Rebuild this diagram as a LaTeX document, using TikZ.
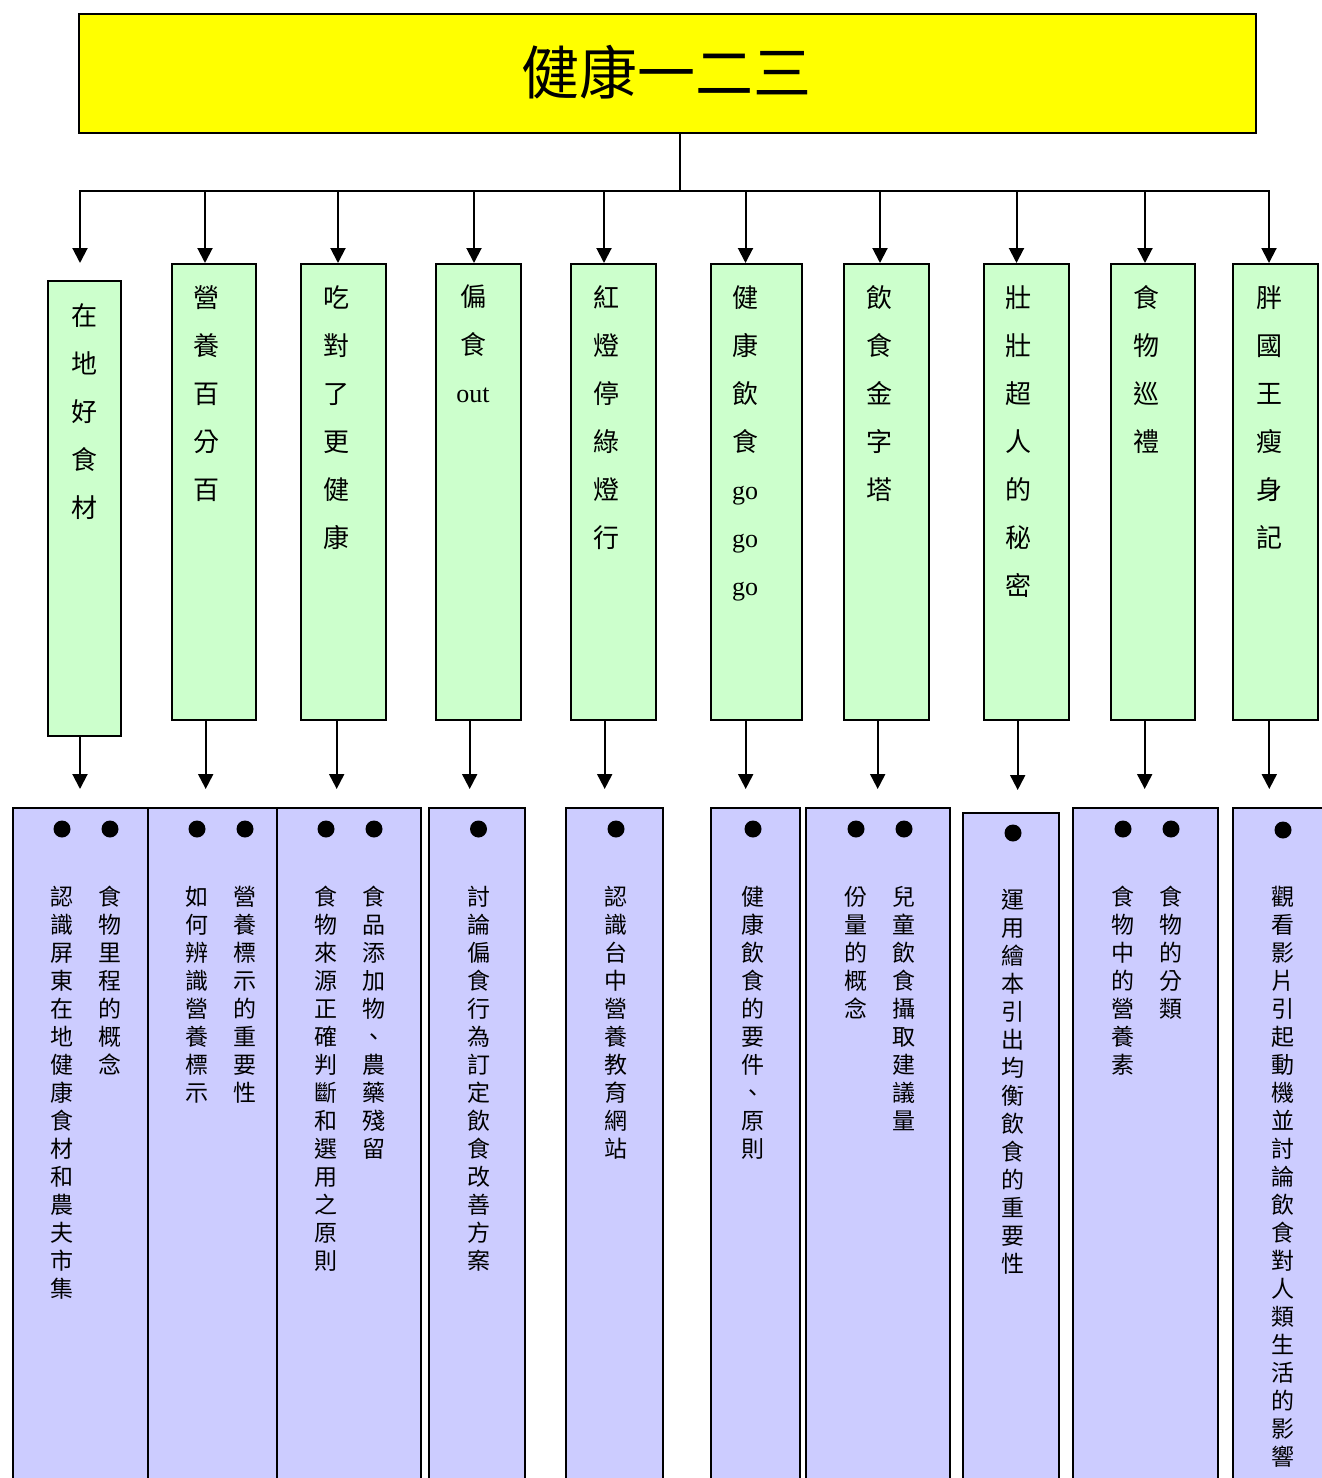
\documentclass[tikz,border=0pt]{standalone}
\usepackage{fontspec}
\setmainfont{Liberation Serif}
\newfontfamily\cjk{Noto Sans CJK TC}
\usetikzlibrary{arrows.meta}
\definecolor{ttlfill}{HTML}{FFFF00}
\definecolor{gfill}{HTML}{CCFFCC}
\definecolor{pfill}{HTML}{CCCCFF}
\makeatletter
\newcommand\vstk[1]{\vtop{\lineskiplimit=-100pt\lineskip=0pt\@tfor\vs@c:=#1\do{\hbox to 0pt{\hss\vs@c\hss}}}}
\makeatother
\tikzset{
  ttlbox/.style={draw=black, fill=ttlfill, line width=2pt, inner sep=0pt},
  gbox/.style={draw=black, fill=gfill, line width=2pt, inner sep=0pt, anchor=north west},
  pbox/.style={draw=black, fill=pfill, line width=2.4pt, inner sep=0pt, anchor=north west},
  gtxt/.style={inner sep=0pt, anchor=north, font=\cjk\fontsize{26}{48}\selectfont},
  ptxt/.style={inner sep=0pt, anchor=north, font=\cjk\fontsize{23}{28}\selectfont},
  dot/.style={circle, fill=black, inner sep=0pt, minimum size=17pt},
  conn/.style={draw=black, line width=2pt},
  arr/.style={conn, -{Triangle[width=15pt,length=15pt]}},
}
\begin{document}
\begin{tikzpicture}[x=1pt,y=-1pt]
\useasboundingbox (0,0) rectangle (1322,1478);
\fill[white] (0,0) rectangle (1322,1478);
\clip (0,0) rectangle (1322,1478);

% title
\node[ttlbox, minimum width=1177pt, minimum height=119pt, anchor=north west] (title) at (78,13) {};
\node[inner sep=0pt, font=\cjk\fontsize{58}{60}\selectfont] (titletxt) at (666,72) {健康一二三};

% trunk coordinates
\coordinate (j) at (680,191);
\coordinate (a1) at (80,191);
\coordinate (a2) at (205,191);
\coordinate (a3) at (338,191);
\coordinate (a4) at (474,191);
\coordinate (a5) at (604,191);
\coordinate (a6) at (745.5,191);
\coordinate (a7) at (880,191);
\coordinate (a8) at (1016.5,191);
\coordinate (a9) at (1145,191);
\coordinate (a10) at (1269,191);

\coordinate (b1) at (80,0);
\coordinate (b2) at (205.7,0);
\coordinate (b3) at (336.7,0);
\coordinate (b4) at (469.7,0);
\coordinate (b5) at (604.7,0);
\coordinate (b6) at (745.7,0);
\coordinate (b7) at (877.7,0);
\coordinate (b8) at (1017.7,0);
\coordinate (b9) at (1144.7,0);
\coordinate (b10) at (1269.3,0);

% green boxes
\node[gbox, minimum width=73pt, minimum height=455pt] (g1) at (47,280) {};
\node[gbox, minimum width=84pt, minimum height=456pt] (g2) at (171,263) {};
\node[gbox, minimum width=85pt, minimum height=456pt] (g3) at (300,263) {};
\node[gbox, minimum width=85pt, minimum height=456pt] (g4) at (435,263) {};
\node[gbox, minimum width=85pt, minimum height=456pt] (g5) at (570,263) {};
\node[gbox, minimum width=91pt, minimum height=456pt] (g6) at (710,263) {};
\node[gbox, minimum width=85pt, minimum height=456pt] (g7) at (843,263) {};
\node[gbox, minimum width=85pt, minimum height=456pt] (g8) at (983,263) {};
\node[gbox, minimum width=84pt, minimum height=456pt] (g9) at (1110,263) {};
\node[gbox, minimum width=85pt, minimum height=456pt] (g10) at (1232,263) {};

\node[gtxt] (g1t) at (84,303) {\vstk{在地好食材}};
\node[gtxt] (g2t) at (206,285) {\vstk{營養百分百}};
\node[gtxt] (g3t) at (336,285) {\vstk{吃對了更健康}};
\node[gtxt] (g4t) at (473,285) {\vstk{偏食{\rmfamily out}}};
\node[gtxt] (g5t) at (606,285) {\vstk{紅燈停綠燈行}};
\node[gtxt] (g6t) at (745,285) {\vstk{健康飲食{\rmfamily go}{\rmfamily go}{\rmfamily go}}};
\node[gtxt] (g7t) at (879,285) {\vstk{飲食金字塔}};
\node[gtxt] (g8t) at (1018,285) {\vstk{壯壯超人的秘密}};
\node[gtxt] (g9t) at (1146,285) {\vstk{食物巡禮}};
\node[gtxt] (g10t) at (1269,285) {\vstk{胖國王瘦身記}};

% purple boxes
\node[pbox, minimum width=135pt, minimum height=800pt] (p1) at (12,807) {};
\node[pbox, minimum width=129pt, minimum height=800pt] (p2) at (147,807) {};
\node[pbox, minimum width=144pt, minimum height=800pt] (p3) at (276,807) {};
\node[pbox, minimum width=96pt, minimum height=800pt] (p4) at (427.5,807) {};
\node[pbox, minimum width=96.5pt, minimum height=800pt] (p5) at (565,807) {};
\node[pbox, minimum width=89pt, minimum height=800pt] (p6) at (710,807) {};
\node[pbox, minimum width=144pt, minimum height=800pt] (p7) at (805,807) {};
\node[pbox, minimum width=96pt, minimum height=800pt] (p8) at (962,812) {};
\node[pbox, minimum width=145pt, minimum height=800pt] (p9) at (1072,807) {};
\node[pbox, minimum width=120pt, minimum height=800pt] (p10) at (1232,807) {};

% bullets
\node[dot] (p1d1) at (62,829) {};
\node[dot] (p1d2) at (110,829) {};
\node[dot] (p2d1) at (197,829) {};
\node[dot] (p2d2) at (245,829) {};
\node[dot] (p3d1) at (326,829) {};
\node[dot] (p3d2) at (374,829) {};
\node[dot] (p4d1) at (478.5,829) {};
\node[dot] (p5d1) at (616,829) {};
\node[dot] (p6d1) at (753,829) {};
\node[dot] (p7d1) at (856,829) {};
\node[dot] (p7d2) at (904,829) {};
\node[dot] (p8d1) at (1013,833) {};
\node[dot] (p9d1) at (1123,829) {};
\node[dot] (p9d2) at (1171,829) {};
\node[dot] (p10d1) at (1283,830) {};

% purple texts
\node[ptxt] (p1t1) at (62,886) {\vstk{認識屏東在地健康食材和農夫市集}};
\node[ptxt] (p1t2) at (110,886) {\vstk{食物里程的概念}};
\node[ptxt] (p2t1) at (197,886) {\vstk{如何辨識營養標示}};
\node[ptxt] (p2t2) at (245,886) {\vstk{營養標示的重要性}};
\node[ptxt] (p3t1) at (326,886) {\vstk{食物來源正確判斷和選用之原則}};
\node[ptxt] (p3t2) at (374,886) {\vstk{食品添加物、農藥殘留}};
\node[ptxt] (p4t1) at (478.5,886) {\vstk{討論偏食行為訂定飲食改善方案}};
\node[ptxt] (p5t1) at (616,886) {\vstk{認識台中營養教育網站}};
\node[ptxt] (p6t1) at (753,886) {\vstk{健康飲食的要件、原則}};
\node[ptxt] (p7t1) at (856,886) {\vstk{份量的概念}};
\node[ptxt] (p7t2) at (904,886) {\vstk{兒童飲食攝取建議量}};
\node[ptxt] (p8t1) at (1013,889) {\vstk{運用繪本引出均衡飲食的重要性}};
\node[ptxt] (p9t1) at (1123,886) {\vstk{食物中的營養素}};
\node[ptxt] (p9t2) at (1171,886) {\vstk{食物的分類}};
\node[ptxt] (p10t1) at (1283,886) {\vstk{觀看影片引起動機並討論飲食對人類生活的影響}};

% connectors: title to trunk
\draw[conn] (title.south -| j) -- (j);
\draw[conn, line cap=rect] (a1) -- (a10);

% trunk to green boxes
\draw[arr, shorten >=17pt] (a1) -- (a1 |- g1.north);
\foreach \i in {2,...,10}{
  \draw[arr] (a\i) -- (a\i |- g\i.north);
}

% green boxes to purple boxes
\foreach \i in {1,...,7,9,10}{
  \draw[arr, shorten >=18pt] (b\i |- g\i.south) -- (b\i |- p\i.north);
}
\draw[arr, shorten >=22pt] (b8 |- g8.south) -- (b8 |- p8.north);
\end{tikzpicture}
\end{document}
